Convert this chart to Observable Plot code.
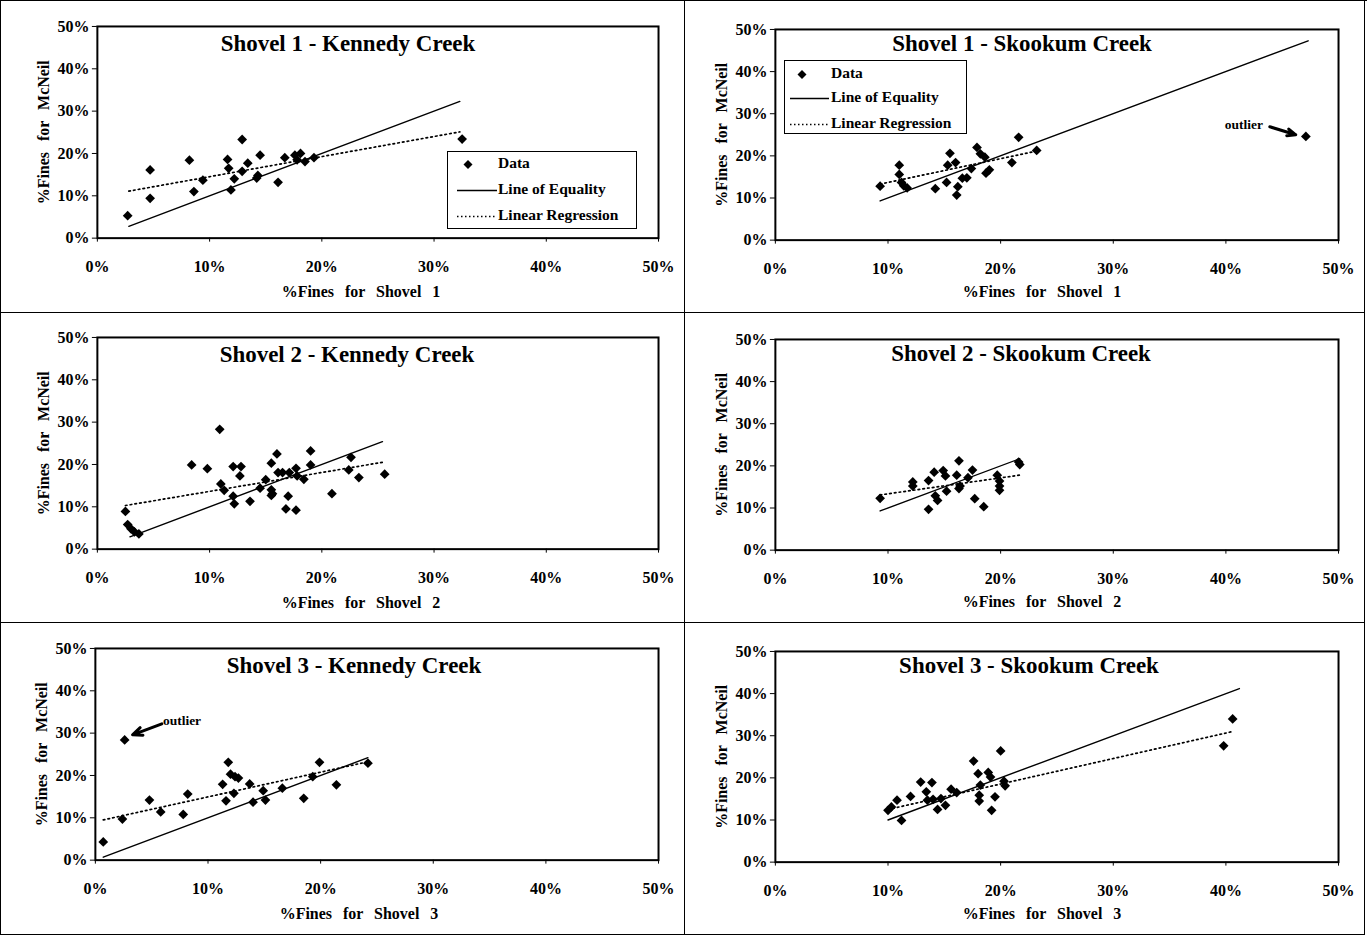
<!DOCTYPE html>
<html>
<head>
<meta charset="utf-8">
<script src="https://cdn.jsdelivr.net/npm/d3@7"></script>
<script src="https://cdn.jsdelivr.net/npm/@observablehq/plot@0.6"></script>
<style>
  body { margin: 0; background: #fff; }
  #page { position: relative; width: 1367px; height: 935px; overflow: hidden;
          font-family: "Liberation Serif", "Times New Roman", serif; }
  .panel { position: absolute; box-sizing: border-box; border-right: 1.5px solid #000; border-bottom: 1.5px solid #000; }
  .panel svg { overflow: visible; }
  .wide { word-spacing: 7px; }
  .legend { position: absolute; box-sizing: border-box; border: 1.5px solid #000; background: #fff;
            font-weight: bold; font-size: 15.5px; }
  .legend .row { position: absolute; left: 0; height: 20px; width: 100%; }
  .legend .row svg { position: absolute; left: 0; top: 0; }
  .legend .row span { position: absolute; top: 0px; white-space: nowrap; }
</style>
</head>
<body>
<div id="page" style="border-left:1.5px solid #000;border-top:1.5px solid #000;box-sizing:border-box;"></div>
<script>
// ---------------- data ----------------
const tickValues = [0, 10, 20, 30, 40, 50];
const tickLabels = ["0%", "10%", "20%", "30%", "40%", "50%"];
const yAxisTitle = "%Fines for McNeil";
const legendLabels = ["Data", "Line of Equality", "Linear Regression"];
const outlierLabel = "outlier";

const titles = [
  "Shovel 1 - Kennedy Creek", "Shovel 1 - Skookum Creek",
  "Shovel 2 - Kennedy Creek", "Shovel 2 - Skookum Creek",
  "Shovel 3 - Kennedy Creek", "Shovel 3 - Skookum Creek"
];
const xTitles = [
  "%Fines for Shovel 1", "%Fines for Shovel 1",
  "%Fines for Shovel 2", "%Fines for Shovel 2",
  "%Fines for Shovel 3", "%Fines for Shovel 3"
];

// Shovel 1 - Kennedy Creek
const s1kX = [2.7, 4.7, 4.7, 8.2, 8.6, 9.4, 11.6, 11.7, 11.9, 12.2, 12.9, 12.9, 13.4, 14.5, 14.2, 14.3, 16.1, 16.7, 17.6, 18.1, 17.8, 18.5, 19.3, 32.5];
const s1kY = [5.3, 16.1, 9.4, 18.4, 11.0, 13.7, 18.6, 16.5, 11.4, 14.0, 23.3, 15.8, 17.7, 19.6, 14.2, 14.8, 13.2, 19.0, 19.6, 20.0, 18.5, 18.1, 19.0, 23.4];
const s1kEqX = [2.8, 32.3], s1kEqY = [2.8, 32.3];
const s1kRegX = [2.8, 32.3], s1kRegY = [11.1, 25.1];

// Shovel 1 - Skookum Creek
const s1sX = [9.3, 11.0, 11.0, 11.2, 11.4, 11.7, 14.2, 15.2, 15.5, 15.3, 16.0, 16.2, 16.1, 16.6, 17.0, 17.4, 17.9, 18.2, 18.6, 18.7, 19.0, 21.0, 21.6, 23.2, 47.1];
const s1sY = [12.8, 17.8, 15.6, 13.7, 12.9, 12.4, 12.2, 13.7, 20.6, 17.8, 18.4, 12.7, 10.7, 14.7, 14.8, 17.0, 22.0, 20.5, 19.7, 15.9, 16.7, 18.4, 24.4, 21.3, 24.6];
const s1sEqX = [9.3, 47.3], s1sEqY = [9.3, 47.3];
const s1sRegX = [9.3, 23.3], s1sRegY = [13.3, 21.2];

// Shovel 2 - Kennedy Creek
const s2kX = [2.5, 2.7, 3.0, 3.3, 3.7, 8.4, 9.8, 10.9, 11.0, 11.3, 12.1, 12.8, 12.7, 12.1, 12.2, 13.6, 14.5, 15.0, 15.5, 15.5, 15.6, 15.5, 16.0, 16.1, 16.5, 17.1, 17.7, 17.8, 18.4, 17.0, 16.8, 17.7, 19.0, 19.0, 20.9, 22.6, 22.4, 23.3, 25.6];
const s2kY = [8.9, 5.8, 4.8, 4.1, 3.6, 19.9, 19.0, 28.3, 15.4, 13.9, 19.5, 19.5, 17.3, 12.5, 10.7, 11.3, 14.4, 16.4, 20.3, 14.0, 13.1, 12.7, 22.5, 18.1, 18.1, 18.1, 19.1, 17.3, 16.5, 12.5, 9.5, 9.2, 23.2, 19.9, 13.1, 21.7, 18.7, 16.9, 17.7];
const s2kEqX = [2.9, 25.4], s2kEqY = [2.9, 25.4];
const s2kRegX = [2.5, 25.6], s2kRegY = [10.3, 20.6];

// Shovel 2 - Skookum Creek
const s2sX = [9.3, 12.2, 12.2, 13.6, 14.1, 14.9, 15.1, 13.6, 14.2, 14.4, 15.2, 16.3, 16.1, 16.4, 16.3, 17.1, 17.5, 17.7, 18.5, 19.7, 19.9, 19.9, 19.9, 21.6, 21.7];
const s2sY = [12.3, 16.2, 15.2, 16.5, 18.5, 18.9, 17.6, 9.7, 12.9, 11.8, 14.0, 21.2, 17.8, 15.2, 14.6, 17.2, 19.0, 12.2, 10.3, 17.8, 16.4, 15.2, 14.2, 20.9, 20.3];
const s2sEqX = [9.3, 21.7], s2sEqY = [9.3, 21.7];
const s2sRegX = [9.3, 21.7], s2sRegY = [13.1, 17.8];

// Shovel 3 - Kennedy Creek
const s3kX = [0.7, 2.4, 2.6, 4.8, 5.8, 7.8, 8.2, 11.3, 11.6, 11.8, 12.0, 12.4, 12.7, 12.3, 13.7, 14.0, 14.9, 15.1, 16.6, 18.5, 19.3, 19.9, 21.4, 24.2];
const s3kY = [4.3, 9.7, 28.4, 14.2, 11.4, 10.8, 15.6, 17.9, 14.0, 23.1, 20.3, 19.7, 19.4, 15.8, 18.0, 13.7, 16.4, 14.2, 17.0, 14.6, 19.7, 23.1, 17.8, 22.9];
const s3kEqX = [0.7, 24.2], s3kEqY = [0.7, 24.2];
const s3kRegX = [0.7, 24.3], s3kRegY = [9.5, 23.3];

// Shovel 3 - Skookum Creek
const s3sX = [10.0, 10.3, 10.8, 11.2, 12.0, 12.9, 13.4, 13.9, 13.5, 14.0, 14.4, 14.7, 15.1, 15.6, 16.1, 17.6, 18.0, 18.2, 18.1, 18.1, 18.9, 19.1, 19.5, 19.2, 20.0, 20.3, 20.4, 39.8, 40.6];
const s3sY = [12.3, 13.1, 14.7, 9.9, 15.6, 19.0, 16.7, 18.9, 14.7, 14.9, 12.5, 15.1, 13.5, 17.3, 16.5, 24.0, 21.0, 18.3, 15.9, 14.5, 21.3, 20.2, 15.5, 12.3, 26.4, 19.2, 18.1, 27.6, 34.0];
const s3sEqX = [10.0, 41.2], s3sEqY = [10.0, 41.2];
const s3sRegX = [10.0, 40.6], s3sRegY = [12.5, 31.0];

// outlier annotations (data coordinates)
const outlierP2 = { tx: 41.6, ty: 27.3, x1: 43.9, y1: 26.9, x2: 46.2, y2: 25.0 };
const outlierP5 = { tx: 6.0, ty: 33.0, x1: 5.9, y1: 32.2, x2: 3.3, y2: 29.6 };

// ---------------- layout ----------------
const series = [
  [s1kX, s1kY, s1kEqX, s1kEqY, s1kRegX, s1kRegY],
  [s1sX, s1sY, s1sEqX, s1sEqY, s1sRegX, s1sRegY],
  [s2kX, s2kY, s2kEqX, s2kEqY, s2kRegX, s2kRegY],
  [s2sX, s2sY, s2sEqX, s2sEqY, s2sRegX, s2sRegY],
  [s3kX, s3kY, s3kEqX, s3kEqY, s3kRegX, s3kRegY],
  [s3sX, s3sY, s3sEqX, s3sEqY, s3sRegX, s3sRegY]
];
// box: left, top, width, height ; margins: top, right, bottom, left ; title offsets
const layout = [
  { box: [0, 0, 684, 312],   m: [25, 26, 75, 96], tdx: 251, tdy: 17 },
  { box: [684, 0, 680, 312], m: [28, 26, 73, 90], tdx: 247, tdy: 14 },
  { box: [0, 312, 684, 310], m: [24, 26, 74, 96], tdx: 250, tdy: 17 },
  { box: [684, 312, 680, 310], m: [26, 26, 73, 90], tdx: 246, tdy: 14 },
  { box: [0, 622, 684, 312], m: [25, 26, 75, 94], tdx: 259, tdy: 17 },
  { box: [684, 622, 680, 312], m: [28, 26, 73, 90], tdx: 254, tdy: 14 }
];
const legends = [
  { panel: 0, left: 446, top: 150, w: 190, h: 78, rows: [12, 38, 64], dia: 20, l0: 9, l1: 49, tx: 50 },
  { panel: 1, left: 783, top: 59, w: 183, h: 74, rows: [13, 37, 63], dia: 17, l0: 5, l1: 44, tx: 46 }
];

const page = document.getElementById("page");
const font = "'Liberation Serif', 'Times New Roman', serif";
const fmt = d => tickLabels[tickValues.indexOf(d)];

layout.forEach((L, i) => {
  const [X, Y, EqX, EqY, RegX, RegY] = series[i];
  const [left, top, w, h] = L.box;
  const [mt, mr, mb, ml] = L.m;
  const pts = X.map((x, j) => ({ x, y: Y[j] }));
  const eq = EqX.map((x, j) => ({ x, y: EqY[j] }));
  const reg = RegX.map((x, j) => ({ x, y: RegY[j] }));
  const marks = [
    Plot.line(eq, { x: "x", y: "y", stroke: "#000", strokeWidth: 1.4 }),
    Plot.line(reg, { x: "x", y: "y", stroke: "#000", strokeWidth: 1.7, strokeDasharray: "1.6,3.2" }),
    Plot.dot(pts, { x: "x", y: "y", symbol: "diamond2", fill: "#000", stroke: "none", r: 4.4 }),
    Plot.frame({ stroke: "#000", strokeWidth: 2 }),
    Plot.axisY({ ticks: tickValues, tickFormat: fmt, tickSize: 5, tickPadding: 3, label: null, fontSize: 16, fontWeight: "bold" }),
    Plot.axisX({ ticks: tickValues, tickFormat: fmt, tickSize: 4, tickPadding: 19, label: null, fontSize: 16, fontWeight: "bold" }),
    Plot.text([titles[i]], { text: d => d, frameAnchor: "top-left", lineAnchor: "middle", dx: L.tdx, dy: L.tdy, fontSize: 23, fontWeight: "bold", textAnchor: "middle" }),
    Plot.text([xTitles[i]], { text: d => d, frameAnchor: "bottom-left", lineAnchor: "middle", dx: (i % 2 ? 267 : 264), dy: (i % 2 ? 52 : 54), fontSize: 16, fontWeight: "bold", textAnchor: "middle", className: "wide" }),
    Plot.text([yAxisTitle], { text: d => d, frameAnchor: "left", lineAnchor: "middle", dx: -54, rotate: -90, fontSize: 16, fontWeight: "bold", textAnchor: "middle", className: "wide" })
  ];
  const ann = i === 1 ? outlierP2 : i === 4 ? outlierP5 : null;
  if (ann) {
    marks.push(Plot.text([ann], { x: "tx", y: "ty", text: () => outlierLabel, fontSize: 13.5, fontWeight: "bold",
      textAnchor: i === 1 ? "middle" : "start" }));
    marks.push(Plot.arrow([ann], { x1: "x1", y1: "y1", x2: "x2", y2: "y2", stroke: "#000", strokeWidth: 3, headLength: 9, headAngle: 45 }));
  }
  const chart = Plot.plot({
    width: w, height: h,
    marginTop: mt, marginRight: mr, marginBottom: mb, marginLeft: ml,
    x: { domain: [0, 50] },
    y: { domain: [0, 50] },
    style: { fontFamily: font, fontWeight: "bold", fontSize: "16px", background: "transparent", color: "#000" },
    marks
  });
  const div = document.createElement("div");
  div.className = "panel";
  div.style.left = left + "px"; div.style.top = top + "px";
  div.style.width = w + "px"; div.style.height = h + "px";
  div.appendChild(chart);
  page.appendChild(div);
});

legends.forEach(G => {
  const box = document.createElement("div");
  box.className = "legend";
  Object.assign(box.style, { left: G.left + "px", top: G.top + "px", width: G.w + "px", height: G.h + "px" });
  legendLabels.forEach((lab, k) => {
    const row = document.createElement("div");
    row.className = "row";
    row.style.top = (G.rows[k] - 10) + "px";
    let sym;
    if (k === 0) {
      sym = `<svg width="60" height="20"><path d="M${G.dia},6 L${G.dia + 4.5},10.5 L${G.dia},15 L${G.dia - 4.5},10.5 Z" fill="#000"/></svg>`;
    } else {
      const dash = k === 2 ? ' stroke-dasharray="1.5,2.5"' : '';
      sym = `<svg width="60" height="20"><line x1="${G.l0}" x2="${G.l1}" y1="10.5" y2="10.5" stroke="#000" stroke-width="1.4"${dash}/></svg>`;
    }
    row.innerHTML = sym + `<span style="left:${G.tx}px">${lab}</span>`;
    box.appendChild(row);
  });
  page.appendChild(box);
});
</script>
</body>
</html>
